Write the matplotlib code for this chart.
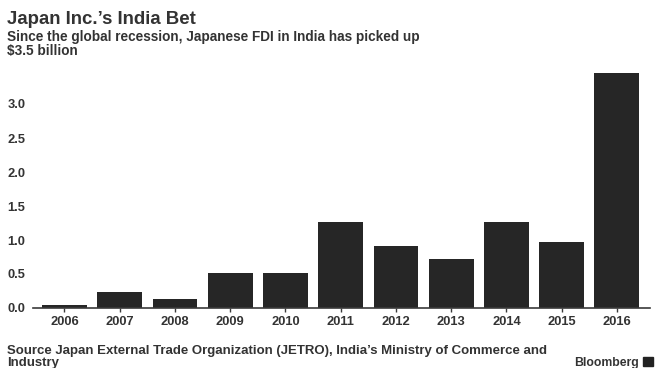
import matplotlib
matplotlib.use("Agg")
import matplotlib.pyplot as plt
from matplotlib.patches import Rectangle

plt.rcParams['font.family'] = ['Liberation Sans', 'DejaVu Sans']

years = ["2006", "2007", "2008", "2009", "2010", "2011",
         "2012", "2013", "2014", "2015", "2016"]
fdi_billion = [0.04, 0.23, 0.13, 0.52, 0.51, 1.26,
               0.91, 0.72, 1.26, 0.97, 3.45]
y_ticks = [0.0, 0.5, 1.0, 1.5, 2.0, 2.5, 3.0]
y_tick_labels = ["0.0", "0.5", "1.0", "1.5", "2.0", "2.5", "3.0"]

W, H = 656, 368
fig = plt.figure(figsize=(W / 100, H / 100), dpi=100)
fig.patch.set_facecolor("white")

text_col = "#333333"
bar_col = "#262626"

ax = fig.add_axes([33 / W, 1 - 308 / H, (650 - 33) / W, (308 - 70) / H])
x = list(range(len(years)))
ax.bar(x, fdi_billion, width=0.81, color=bar_col, zorder=2)

ax.set_xlim(-0.57, len(years) - 1 + 0.6)
ax.set_ylim(0, 3.5)

for s in ["top", "right", "left"]:
    ax.spines[s].set_visible(False)
ax.spines["bottom"].set_color("#3a3a3a")
ax.spines["bottom"].set_linewidth(1.2)
ax.spines["bottom"].set_zorder(3)

ax.set_xticks(x)
ax.set_xticklabels(years, fontsize=9.3, fontweight="bold", color=text_col)
ax.tick_params(axis="x", length=3, width=1, color="#3a3a3a", pad=3)

ax.set_yticks(y_ticks)
ax.set_yticklabels(y_tick_labels, fontsize=9.3, fontweight="bold", color=text_col,
                   ha="left")
ax.tick_params(axis="y", length=0, pad=18.5)

# Header
fig.text(7 / W, 1 - 24 / H, "Japan Inc.\u2019s India Bet", fontsize=13.4,
         fontweight="bold", color=text_col, va="baseline", ha="left")
fig.text(7 / W, 1 - 41.5 / H,
         "Since the global recession, Japanese FDI in India has picked up",
         fontsize=9.8, fontweight="bold", color=text_col, va="baseline", ha="left")
fig.text(7 / W, 1 - 55 / H, "$3.5 billion", fontsize=9.8, fontweight="bold",
         color=text_col, va="baseline", ha="left")

# Footer
fig.text(7 / W, 1 - 354 / H,
         "Source Japan External Trade Organization (JETRO), India\u2019s Ministry of Commerce and",
         fontsize=9.5, fontweight="bold", color=text_col, va="baseline", ha="left")
fig.text(7 / W, 1 - 366 / H, "Industry", fontsize=9.5, fontweight="bold",
         color=text_col, va="baseline", ha="left")
fig.text(639 / W, 1 - 366 / H, "Bloomberg", fontsize=8.8, fontweight="bold",
         color=text_col, va="baseline", ha="right")
fig.add_artist(Rectangle((643 / W, 1 - 366 / H), 10 / W, 9 / H,
                         transform=fig.transFigure, color="#222222"))

fig.savefig("out.png", dpi=100)
